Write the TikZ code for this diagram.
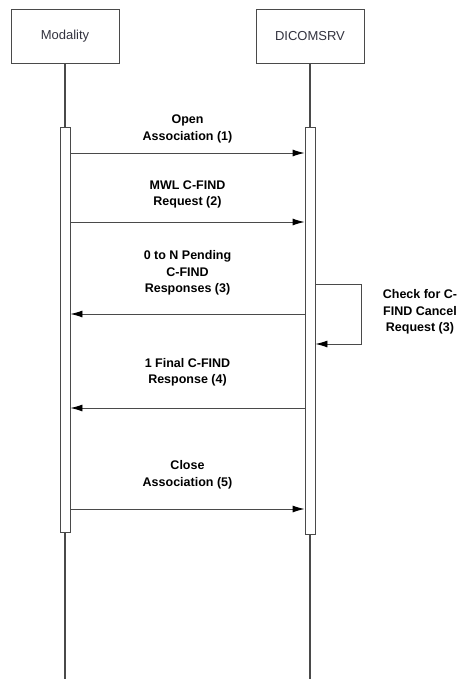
\documentclass[tikz,border=0pt]{standalone}
\usepackage{fontspec}
\setmainfont{Liberation Sans}
\usetikzlibrary{arrows.meta}

\definecolor{linegray}{HTML}{4A4A4A}
\definecolor{headtext}{HTML}{33333F}

\begin{document}
\begin{tikzpicture}[x=1pt,y=-1pt,
    actor/.style={draw=linegray, line width=0.9pt, minimum width=108pt, minimum height=54pt, inner sep=0pt, text=headtext, font=\fontsize{13}{15}\selectfont},
    bar/.style={draw=linegray, line width=0.9pt, fill=white, minimum width=10pt, inner sep=0pt},
    life/.style={linegray, line width=1.2pt},
    msg/.style={linegray, line width=0.9pt, -{Latex[length=12pt,width=7pt,black]}},
    lbl/.style={align=center, inner sep=0pt, font=\bfseries\fontsize{12.5}{16.5}\selectfont}]
        \fill[white] (0,0) rectangle (458,679);
        \useasboundingbox (0,0) rectangle (458,679);

        \node[actor] (mod) at (65,36) {Modality};
        \node[actor] (srv) at (310,36) {DICOMSRV};
        \coordinate (modend) at (65,679);
        \coordinate (srvend) at (310,679);

        \draw[life] (mod) -- (65,127);
        \draw[life] (srv) -- (310,127);
        \draw[life] (65,532) -- (modend);
        \draw[life] (310,534) -- (srvend);

        \node[bar, minimum height=405pt] (modbar) at (65,329.5) {};
        \node[bar, minimum height=407pt] (srvbar) at (310,330.5) {};

        \coordinate (m1) at (0,153);
        \coordinate (m2) at (0,222);
        \coordinate (m3) at (0,314);
        \coordinate (loopa) at (361,284);
        \coordinate (loopb) at (361,344);
        \coordinate (m4) at (0,408);
        \coordinate (m5) at (0,509);

        \draw[msg] (modbar.east |- m1) -- (srvbar.west |- m1);
        \draw[msg] (modbar.east |- m2) -- (srvbar.west |- m2);
        \draw[msg] (srvbar.west |- m3) -- (modbar.east |- m3);
        \draw[msg] (srvbar.east |- loopa) -| (loopb) -- (srvbar.east |- loopb);
        \draw[msg] (srvbar.west |- m4) -- (modbar.east |- m4);
        \draw[msg] (modbar.east |- m5) -- (srvbar.west |- m5);

        \node[lbl] (open) at (187.5,129) {Open\\Association (1)};
        \node[lbl] (req) at (187.5,194.5) {MWL C-FIND\\Request (2)};
        \node[lbl] (pend) at (187.5,273) {0 to N Pending\\C-FIND\\Responses (3)};
        \node[lbl] (check) at (420,312) {Check for C-\\FIND Cancel\\Request (3)};
        \node[lbl] (final) at (187.5,372.5) {1 Final C-FIND\\Response (4)};
        \node[lbl] (close) at (187.5,475) {Close\\Association (5)};
    \end{tikzpicture}
\end{document}
